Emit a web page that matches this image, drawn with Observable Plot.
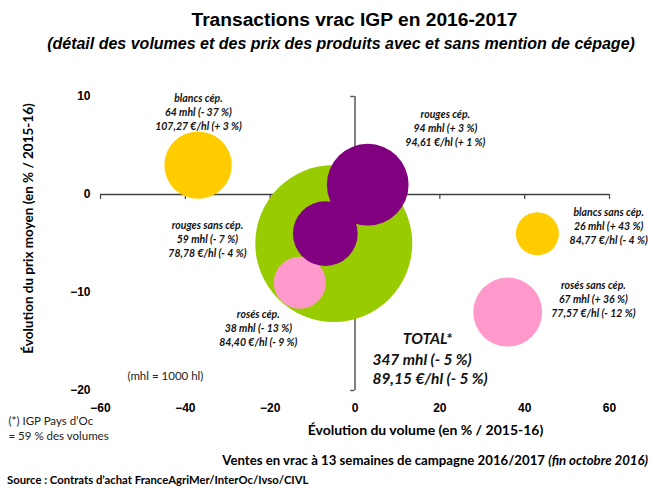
<!DOCTYPE html>
<html><head><meta charset="utf-8">
<script src="https://cdn.jsdelivr.net/npm/d3@7"></script>
<script src="https://cdn.jsdelivr.net/npm/@observablehq/plot@0.6"></script>
<style>
body{margin:0;background:#fff;width:651px;height:489px;overflow:hidden;position:relative;font-family:Lato,sans-serif;color:#000}
.t{position:absolute;white-space:nowrap}
#title{left:0;width:651px;top:9px;line-height:22px;text-align:center;font:bold 19.2px "Liberation Sans",Arial,sans-serif;padding-left:58px;box-sizing:border-box}
#subtitle{left:0;width:651px;top:35px;line-height:18px;text-align:center;font:italic bold 16px "Liberation Sans",Arial,sans-serif;padding-left:31px;box-sizing:border-box}
#chart{position:absolute;left:0;top:58px}
#ventes{right:3px;top:452px;line-height:18px;font:bold 13.2px Lato,sans-serif}
#source{left:7px;top:473px;line-height:16px;font:bold 11.3px Lato,sans-serif}
</style></head>
<body>
<div class="t" id="title">Transactions vrac IGP en 2016-2017</div>
<div class="t" id="subtitle">(détail des volumes et des prix des produits avec et sans mention de cépage)</div>
<div id="chart"></div>
<div class="t" id="ventes">Ventes en vrac à 13 semaines de campagne 2016/2017 <i>(fin octobre 2016)</i></div>
<div class="t" id="source">Source : Contrats d’achat FranceAgriMer/InterOc/Ivso/CIVL</div>
<script>
// ---- data ----
const categories   = ["TOTAL*", "rosés cép.", "rouges sans cép.", "rouges cép.", "blancs cép.", "blancs sans cép.", "rosés sans cép."];
const groups       = ["total", "rosés", "rouges", "rouges", "blancs", "blancs", "rosés"];
const volumeChange = [-5, -13, -7, 3, -37, 43, 36];      // % / 2015-16
const priceChange  = [-5, -9, -4, 1, 3, -4, -12];        // % / 2015-16
const volumes      = [347, 38, 59, 94, 64, 26, 67];      // mhl
const prices       = ["89,15", "84,40", "78,78", "94,61", "107,27", "84,77", "77,57"]; // €/hl
const xTicks = [-60, -40, -20, 0, 20, 40, 60];
const yTicks = [-20, -10, 0, 10];
const groupDomain = ["total", "blancs", "rouges", "rosés"];
const groupColors = ["#99CC00", "#FFCC00", "#800080", "#FF99CC"];
// label anchors (data units), same order as categories
const labelX = [null, -22.8, -34.8, 21.3, -36.9, 59.8, 56.2];
const labelY = [null, -13.6, -4.5, 6.8, 8.5, -3.2, -10.6];

const pct = v => (v < 0 ? "- " : "+ ") + Math.abs(v) + " %";
const data = categories.map((c, i) => ({
  cat: c, group: groups[i], vx: volumeChange[i], py: priceChange[i], vol: volumes[i], price: prices[i],
  lx: labelX[i], ly: labelY[i],
  label: `${c}\n${volumes[i]} mhl (${pct(volumeChange[i])})\n${prices[i]} €/hl (${pct(priceChange[i])})`
}));
const subs = data.filter(d => d.group !== "total");
const total = data.filter(d => d.group === "total");

const chart = Plot.plot({
  width: 651, height: 395,
  marginLeft: 100, marginRight: 42, marginTop: 38, marginBottom: 63,
  x: {domain: [-60, 60]},
  y: {domain: [-20, 10]},
  r: {type: "sqrt", domain: [0, 347], range: [0, 78.5]},
  color: {domain: groupDomain, range: groupColors},
  style: {fontFamily: "Lato, sans-serif", background: "white", overflow: "visible"},
  marks: [
    Plot.axisX({ticks: xTicks, tickSize: 0, tickPadding: 13, label: null, fontWeight: "bold", fontFamily: "Liberation Sans", fontSize: 12, fill: "#000"}),
    Plot.axisY({ticks: yTicks, tickSize: 0, tickPadding: 10, label: null, fontWeight: "bold", fontFamily: "Liberation Sans", fontSize: 12, fill: "#000"}),
    Plot.ruleY([0], {x1: -60, x2: 60, stroke: "#404040", strokeWidth: 1.5}),
    Plot.ruleX(xTicks, {x: d => d, y1: 0, y2: -0.5, stroke: "#404040", strokeWidth: 1.2}),
    Plot.ruleX([0], {y1: -20, y2: 10, stroke: "#808080", strokeWidth: 2}),
    Plot.ruleY(yTicks, {y: d => d, x1: -1, x2: 0, stroke: "#606060", strokeWidth: 1.5}),
    Plot.dot(data, {x: "vx", y: "py", r: "vol", fill: "group", sort: null}),
    Plot.text(subs, {x: "lx", y: "ly", text: "label", fontSize: 10.5, fontWeight: "bold", fontStyle: "italic", lineHeight: 1.33, fill: "#111"}),
    Plot.text(total, {x: 17.1, y: -14.7, text: "cat", fontSize: 15.5, fontWeight: "bold", fontStyle: "italic", fill: "#111"}),
    Plot.text(total, {x: 4.1, y: -17.7, text: d => `${d.vol} mhl (${pct(d.vx)})\n${d.price} €/hl (${pct(d.py)})`, textAnchor: "start", fontSize: 15.5, lineHeight: 1.23, fontWeight: "bold", fontStyle: "italic", fill: "#111"}),
    Plot.text(["(mhl = 1000 hl)"], {x: -44.7, y: -18.6, text: d => d, fontSize: 11.5, fill: "#222"}),
    Plot.text(["Évolution du prix moyen (en % / 2015-16)"], {frameAnchor: "left", textAnchor: "middle", text: d => d, rotate: -90, dx: -72, dy: -15, fontSize: 13.5, fontWeight: "bold", fill: "#000"}),
    Plot.text(["Évolution du volume (en % / 2015-16)"], {frameAnchor: "bottom", text: d => d, dx: 70.5, dy: 44, fontSize: 14, fontWeight: "bold", fill: "#000"}),
    Plot.text(["(*) IGP Pays d’Oc\n= 59 % des volumes"], {frameAnchor: "bottom-left", text: d => d, textAnchor: "start", dx: -92, dy: 49.5, fontSize: 11.5, lineHeight: 1.3, fill: "#222"})
  ]
});
document.getElementById("chart").appendChild(chart);
</script>
</body></html>
